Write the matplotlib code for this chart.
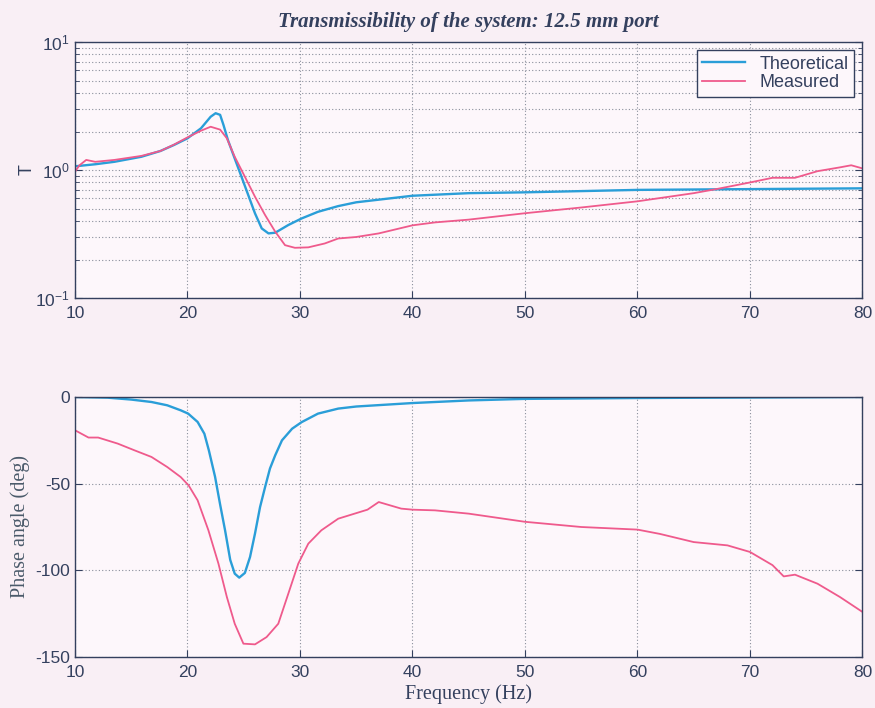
import numpy as np
import matplotlib.pyplot as plt
from matplotlib.ticker import LogLocator, NullFormatter, FixedLocator

plt.rcParams['font.family'] = 'Liberation Sans'
plt.rcParams['mathtext.fontset'] = 'custom'
plt.rcParams['mathtext.rm'] = 'Liberation Sans'
plt.rcParams['axes.unicode_minus'] = False

# magnitude of the transmissibility
f_theo_mag = [10, 11.8, 13.5, 15.9, 17.6, 18.8, 20, 21.2, 22.06, 22.5, 22.9, 23.2, 23.6,
              24.2, 24.8, 25.4, 26.0, 26.6, 27.2, 27.8, 28.96, 30.15, 31.6, 33.4, 35, 40,
              45, 50, 60, 70, 80]
T_theo = [1.07, 1.11, 1.16, 1.27, 1.41, 1.57, 1.77, 2.12, 2.61, 2.78, 2.70, 2.25, 1.71,
          1.23, 0.887, 0.638, 0.459, 0.350, 0.320, 0.324, 0.372, 0.419, 0.472, 0.523,
          0.56, 0.63, 0.66, 0.67, 0.70, 0.71, 0.72]

f_meas_mag = [10, 10.4, 11, 11.8, 13.5, 15.9, 17.6, 18.8, 20, 21.2, 22.06, 22.9, 23.5,
              24.2, 25.1, 26.0, 26.9, 27.8, 28.67, 29.55, 30.74, 32.2, 33.4, 35, 37, 40,
              42, 45, 50, 55, 60, 65, 67, 70, 72, 74, 76, 78, 79, 80]
T_meas = [0.97, 1.09, 1.20, 1.16, 1.20, 1.29, 1.41, 1.58, 1.80, 2.03, 2.18, 2.07, 1.77,
          1.27, 0.887, 0.619, 0.445, 0.33, 0.259, 0.247, 0.249, 0.267, 0.292, 0.30, 0.32,
          0.37, 0.39, 0.41, 0.46, 0.51, 0.57, 0.66, 0.71, 0.80, 0.87, 0.87, 0.98, 1.05,
          1.09, 1.03]

# phase angle
f_theo_ph = [10, 12.9, 15, 16.8, 18.2, 19.4, 20.06, 20.9, 21.5, 21.9, 22.45, 22.9, 23.34,
             23.8, 24.2, 24.6, 25.1, 25.56, 26.0, 26.45, 26.9, 27.33, 27.8, 28.4, 29.3,
             30.15, 31.6, 33.4, 35, 40, 45, 50, 60, 70, 80]
ph_theo = [0, -0.4, -1.5, -2.9, -4.8, -7.7, -9.6, -14.4, -21.2, -30.8, -46, -62, -76.9,
           -94, -101.9, -104.2, -101.5, -92.3, -78.8, -63.5, -51.9, -41.3, -33.6, -25,
           -18.3, -14.5, -9.6, -6.7, -5.5, -3.5, -2.0, -1.1, -0.6, -0.3, 0]

f_meas_ph = [10, 11.2, 12.06, 13.8, 15.3, 16.8, 18.2, 19.4, 20.1, 20.9, 21.86, 22.75,
             23.5, 24.2, 24.97, 26.0, 27.03, 28.07, 28.96, 29.85, 30.74, 31.9, 33.4, 34,
             36, 37, 38, 39, 40, 42, 45, 50, 55, 60, 62, 65, 68, 70, 72, 73, 74, 76, 78,
             80]
ph_meas = [-19.2, -23.4, -23.4, -26.9, -30.8, -34.6, -40.4, -46.2, -51, -59.6, -76.9,
           -96.1, -115.4, -130.8, -142.3, -142.7, -138.5, -130.8, -113.5, -96.1, -84.6,
           -76.9, -70.2, -69, -65, -60.6, -62.5, -64.4, -65, -65.4, -67.3, -72, -75, -76.5,
           -79, -83.7, -85.6, -89.4, -97, -103.5, -102.5, -107.7, -115.4, -124]

bg = '#f9eff5'
navy = '#34405e'
blue = '#2a9ed8'
pink = '#ef5a8c'
grid_kw = dict(color='#8a8f9c', linestyle=(0, (1, 2)), linewidth=0.8)

fig = plt.figure(figsize=(8.75, 7.08), dpi=100, facecolor=bg)
ax1 = fig.add_axes([0.0857, 0.579, 0.900, 0.3616])
ax2 = fig.add_axes([0.0857, 0.072, 0.900, 0.3673])

for ax in (ax1, ax2):
    ax.set_facecolor('#fdf7fb')
    for s in ax.spines.values():
        s.set_color(navy)
        s.set_linewidth(1.0)
    ax.tick_params(which='both', direction='in', colors=navy, labelcolor=navy,
                   labelsize=12.5, right=True, top=False)
    ax.tick_params(axis='x', pad=6)
    ax.set_xlim(10, 80)
    ax.set_xticks(range(10, 81, 10))

ax1.plot(f_theo_mag, T_theo, color=blue, lw=1.7, label='Theoretical')
ax1.plot(f_meas_mag, T_meas, color=pink, lw=1.3, label='Measured')
ax1.set_yscale('log')
ax1.set_ylim(0.1, 10)
ax1.yaxis.set_major_locator(FixedLocator([0.1, 1, 10]))
ax1.yaxis.set_minor_locator(LogLocator(base=10, subs=np.arange(2, 10)))
ax1.yaxis.set_minor_formatter(NullFormatter())
ax1.tick_params(which='major', length=5)
ax1.tick_params(which='minor', length=3)
ax1.grid(True, which='both', axis='y', **grid_kw)
ax1.grid(True, which='major', axis='x', **grid_kw)
ax1.set_ylabel('T', fontsize=13, color=navy, labelpad=0)
ax1.set_title('Transmissibility of the system: 12.5 mm port', family='Liberation Serif',
              style='italic', weight='bold', fontsize=15, color=navy, pad=11)
leg = ax1.legend(loc='upper right', fontsize=13, frameon=True, fancybox=False,
                 borderpad=0.3, labelspacing=0.1, handlelength=2.4,
                 borderaxespad=0.45)
leg.get_frame().set_edgecolor(navy)
leg.get_frame().set_facecolor('#fdf7fb')
leg.get_frame().set_alpha(1)
for t in leg.get_texts():
    t.set_color(navy)

ax2.plot(f_theo_ph, ph_theo, color=blue, lw=1.7)
ax2.plot(f_meas_ph, ph_meas, color=pink, lw=1.3)
ax2.set_ylim(-150, 0)
ax2.set_yticks([0, -50, -100, -150])
ax2.tick_params(length=5)
ax2.grid(True, **grid_kw)
ax2.set_ylabel('Phase angle (deg)', family='Liberation Serif', fontsize=14.5,
               color='#4a5a6a', labelpad=4)
ax2.set_xlabel('Frequency (Hz)', family='Liberation Serif', fontsize=14.5,
               color=navy, labelpad=3)

fig.savefig('out.png', dpi=100, facecolor=bg)
